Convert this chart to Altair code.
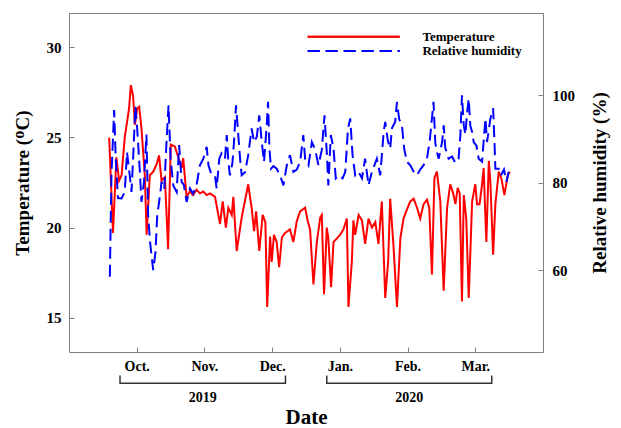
import altair as alt
import pandas as pd

# Days are counted from 1 Sep 2019 (day 30 = Oct., day 60 = Nov., ...)
temp_day = [17.8, 19.5, 21.0, 22.2, 23.3, 24.7, 26.6, 27.4, 28.4, 29.2,
            30.2, 31.1, 32.1, 33.6, 34.4, 35.8, 37.3, 38.8, 39.9, 41.0,
            42.5, 43.9, 45.1, 46.9, 48.4, 49.9, 50.6, 52.1, 53.5, 55.0,
            56.5, 58.0, 59.5, 61.0, 62.5, 64.7, 66.9, 68.1, 69.5, 70.6,
            72.1, 72.8, 74.3, 76.5, 79.4, 80.9, 82.0, 82.9, 84.3, 85.8,
            87.0, 87.8, 89.1, 89.8, 90.8, 92.0, 93.1, 94.3, 95.7, 97.9,
            99.4, 100.9, 102.4, 104.6, 105.8, 106.8, 108.3, 109.8, 111.3, 112.0,
            113.0, 114.2, 114.9, 116.1, 117.2, 118.7, 120.1, 121.6, 123.1, 123.8,
            125.3, 126.0, 126.8, 128.3, 129.8, 131.2, 132.7, 134.2, 135.7, 137.1,
            138.6, 140.1, 141.4, 142.3, 143.8, 145.3, 146.8, 148.2, 149.7, 151.2,
            152.7, 154.2, 155.6, 157.1, 158.6, 159.6, 160.8, 161.9, 163.0, 164.5,
            166.0, 167.5, 168.9, 170.2, 171.2, 172.2, 173.1, 174.1, 174.9, 176.0,
            177.1, 178.6, 180.0, 180.8, 181.9, 183.0, 183.7, 184.9, 186.0, 186.7,
            187.9, 188.9, 190.4, 191.6, 192.9, 194.4, 195.3]
temp_c = [25.0, 19.7, 23.9, 22.6, 22.9, 25.0, 26.6, 27.9, 27.3, 25.7,
          26.6, 26.7, 25.5, 22.9, 19.6, 22.9, 23.1, 23.5, 24.0, 22.6,
          22.8, 18.8, 24.6, 24.5, 23.9, 23.3, 23.85, 21.7, 22.0, 21.8,
          22.1, 21.9, 22.0, 21.8, 21.9, 21.7, 20.2, 21.45, 20.0, 21.1,
          20.7, 21.7, 18.7, 20.55, 22.4, 21.1, 19.8, 20.9, 18.7, 20.7,
          20.3, 15.6, 19.5, 18.1, 19.6, 19.2, 17.8, 19.45, 19.7, 19.9,
          19.2, 20.35, 20.9, 21.1, 20.35, 19.9, 16.85, 19.2, 20.55, 20.7,
          16.3, 20.0, 19.4, 16.7, 19.2, 19.4, 19.6, 19.9, 20.5, 15.6,
          18.1, 20.4, 19.6, 20.7, 20.4, 19.1, 20.5, 20.0, 20.3, 19.1,
          21.45, 16.1, 18.1, 21.6, 18.9, 15.6, 19.4, 20.5, 21.0, 21.45,
          21.6, 21.1, 20.5, 21.3, 21.55, 21.1, 17.4, 22.75, 23.1, 21.45,
          16.5, 21.1, 22.4, 21.9, 21.3, 22.2, 21.9, 15.9, 21.8, 20.5,
          16.1, 21.45, 22.4, 21.3, 21.3, 22.4, 23.3, 19.2, 23.7, 22.5,
          18.5, 21.3, 23.1, 22.7, 21.8, 22.9, 23.1]

rh_day = [18.1, 18.8, 20.0, 20.7, 21.7, 23.3, 24.7, 25.7, 26.9, 27.7,
          28.4, 29.4, 30.2, 31.4, 32.1, 33.2, 34.3, 35.1, 36.0, 37.3,
          38.3, 39.1, 40.3, 41.0, 42.2, 43.2, 44.1, 45.0, 46.2, 47.7,
          48.8, 49.9, 50.9, 52.1, 53.6, 55.0, 56.5, 58.0, 59.5, 61.0,
          61.8, 63.2, 64.7, 65.4, 66.6, 67.6, 69.1, 69.9, 70.6, 71.3,
          72.4, 73.1, 74.0, 75.0, 75.8, 76.5, 78.0, 79.4, 80.9, 82.0,
          83.2, 84.3, 85.4, 86.4, 87.6, 88.2, 88.8, 89.5, 90.6, 92.0,
          93.5, 95.0, 96.5, 97.9, 99.4, 100.9, 102.4, 103.8, 104.6, 106.1,
          107.6, 109.1, 110.5, 112.0, 113.2, 114.2, 114.9, 116.0, 117.2, 118.2,
          119.7, 121.2, 122.4, 123.6, 124.6, 125.6, 126.8, 128.3, 129.8, 131.2,
          132.7, 134.2, 136.4, 137.9, 139.4, 140.1, 141.3, 142.3, 143.1, 144.5,
          145.3, 146.3, 147.5, 148.5, 149.7, 151.2, 152.7, 154.2, 155.6, 157.1,
          158.6, 159.8, 160.8, 161.5, 162.3, 163.0, 163.8, 165.3, 166.0, 166.7,
          168.2, 169.7, 171.2, 172.6, 173.4, 174.1, 174.9, 175.6, 176.4, 177.1,
          177.8, 178.6, 179.3, 180.5, 181.5, 183.0, 184.5, 185.2, 186.7, 187.9,
          188.5, 188.9, 190.4, 191.4, 192.7, 193.8, 194.8]
rh_pct = [58.5, 81.7, 96.6, 85.5, 76.5, 76.4, 77.9, 87.0, 81.7, 77.9,
          85.5, 97.5, 92.4, 82.5, 75.6, 80.0, 91.0, 72.0, 66.0, 60.0,
          64.0, 72.6, 77.0, 80.2, 78.5, 89.3, 97.7, 85.5, 79.4, 77.9,
          88.6, 80.2, 79.5, 75.6, 78.7, 77.5, 79.4, 84.0, 85.5, 88.2,
          84.0, 81.7, 81.5, 78.7, 85.5, 86.7, 85.5, 90.9, 84.8, 81.7,
          84.5, 89.3, 97.7, 90.9, 85.5, 81.7, 82.4, 86.3, 92.4, 89.3,
          90.5, 95.4, 89.3, 84.8, 93.1, 98.5, 87.8, 83.2, 83.8, 83.2,
          81.7, 79.4, 84.0, 86.3, 82.5, 83.0, 84.8, 90.9, 85.5, 84.0,
          89.3, 87.5, 84.0, 87.5, 95.4, 87.0, 79.4, 90.9, 87.8, 81.0,
          81.7, 81.0, 82.5, 92.4, 94.7, 86.5, 81.7, 82.5, 81.0, 85.5,
          79.4, 82.5, 85.5, 81.7, 91.6, 93.9, 89.5, 87.8, 92.5, 93.9,
          98.5, 94.5, 93.1, 87.8, 84.8, 84.0, 82.5, 81.7, 83.0, 84.0,
          85.5, 89.5, 94.7, 98.5, 89.0, 87.0, 85.5, 89.3, 93.1, 88.0,
          85.5, 86.0, 84.5, 85.5, 90.9, 100.0, 93.1, 91.0, 96.2, 99.2,
          93.0, 91.6, 89.3, 88.5, 85.5, 84.8, 94.7, 89.3, 94.7, 97.0,
          89.3, 83.2, 83.2, 81.7, 83.0, 80.2, 82.5]

month_ticks = [30, 60, 90, 120, 150, 180]
month_labels = ["Oct.", "Nov.", "Dec.", "Jan.", "Feb.", "Mar."]
temp_ticks = [15, 20, 25, 30]
rh_ticks = [60, 80, 100]

# Year brackets under the month labels (in days)
year_labels = ["2019", "2020"]
year_start = [22.6, 114.2]
year_end = [95.9, 187.3]

series_names = ["Temperature", "Relative humidity"]

FONT = "Liberation Serif"
W, H = 474, 339
GRAY = "#808080"

temp_df = pd.DataFrame({"day": temp_day, "temp": temp_c})
rh_df = pd.DataFrame({"day": rh_day, "rh": rh_pct})
years_df = pd.DataFrame({
    "year": year_labels,
    "day": year_start,
    "day_end": year_end,
    "mid": [(a + b) / 2 for a, b in zip(year_start, year_end)],
})
bracket_ends_df = pd.DataFrame({"day": year_start + year_end})

label_expr = "[" + ",".join("'" + m + "'" for m in month_labels) + "][round(datum.value / 30) - 1]"

x_scale = alt.Scale(domain=[0, 210], nice=False, zero=False)
x_axis = alt.Axis(
    values=month_ticks, labelExpr=label_expr, title="Date",
    domain=False, grid=False, tickSize=5, offset=-5, tickColor=GRAY,
    labelFont=FONT, labelFontSize=14, labelFontWeight="bold", labelColor="black",
    labelBaseline="alphabetic", labelPadding=18.5,
    titleFont=FONT, titleFontSize=21, titleFontWeight="bold", titleColor="black",
    titleBaseline="alphabetic", titleX=W / 2, titleY=76.5,
)

temp_line = alt.Chart(temp_df).mark_line(color="#ff0000", strokeWidth=2).encode(
    x=alt.X("day:Q", scale=x_scale, axis=x_axis),
    y=alt.Y(
        "temp:Q",
        scale=alt.Scale(domain=[13.1, 31.9], nice=False, zero=False),
        axis=alt.Axis(
            orient="left", values=temp_ticks, title="Temperature (ᴼC)",
            domain=False, grid=False, tickSize=5, offset=-5, tickColor=GRAY,
            labelFont=FONT, labelFontSize=15, labelFontWeight="bold", labelColor="black",
            labelPadding=8,
            titleFont=FONT, titleFontSize=19, titleFontWeight="bold", titleColor="black",
            titleAngle=270, titleBaseline="alphabetic", titleX=-46, titleY=H / 2,
        ),
    ),
    order="day:Q",
)

rh_line = alt.Chart(rh_df).mark_line(color="#0000ff", strokeWidth=2, strokeDash=[12, 6]).encode(
    x=alt.X("day:Q", scale=x_scale, axis=x_axis),
    y=alt.Y(
        "rh:Q",
        scale=alt.Scale(domain=[41.3, 118.8], nice=False, zero=False),
        axis=alt.Axis(
            orient="right", values=rh_ticks, title="Relative humidity (%)",
            domain=False, grid=False, tickSize=5, offset=-5, tickColor=GRAY,
            labelFont=FONT, labelFontSize=15, labelFontWeight="bold", labelColor="black",
            labelPadding=9,
            titleFont=FONT, titleFontSize=19, titleFontWeight="bold", titleColor="black",
            titleAngle=270, titleBaseline="alphabetic", titleX=67, titleY=H / 2,
        ),
    ),
    order="day:Q",
)

# Year brackets and labels below the date axis
bracket_bar = alt.Chart(years_df).mark_rule(color="#333333", strokeWidth=1.5).encode(
    x=alt.X("day:Q", scale=x_scale, axis=x_axis),
    x2="day_end:Q",
    y=alt.value(370.3),
)
bracket_ends = alt.Chart(bracket_ends_df).mark_rule(color="#333333", strokeWidth=1.5).encode(
    x=alt.X("day:Q", scale=x_scale, axis=x_axis),
    y=alt.value(362.5),
    y2=alt.value(371),
)
year_text = alt.Chart(years_df).mark_text(
    font=FONT, fontSize=14, fontWeight="bold", color="black", baseline="alphabetic"
).encode(
    x=alt.X("mid:Q", scale=x_scale, axis=x_axis),
    y=alt.value(388.7),
    text="year:N",
)

# Legend in the upper right of the plot
legend_df = pd.DataFrame({"name": series_names})
leg_temp_line = alt.Chart(legend_df).mark_rule(color="#ff0000", strokeWidth=2).encode(
    x=alt.value(238.7), x2=alt.value(330.7), y=alt.value(23.7)
)
leg_rh_line = alt.Chart(legend_df).mark_rule(color="#0000ff", strokeWidth=2, strokeDash=[12, 6]).encode(
    x=alt.value(238.7), x2=alt.value(330.7), y=alt.value(38)
)
leg_temp_text = alt.Chart(legend_df).transform_filter(
    alt.datum.name == series_names[0]
).mark_text(font=FONT, fontSize=13, fontWeight="bold", color="black", align="left", baseline="alphabetic").encode(
    x=alt.value(353.4), y=alt.value(27.5), text="name:N"
)
leg_rh_text = alt.Chart(legend_df).transform_filter(
    alt.datum.name == series_names[1]
).mark_text(font=FONT, fontSize=13, fontWeight="bold", color="black", align="left", baseline="alphabetic").encode(
    x=alt.value(353.4), y=alt.value(42), text="name:N"
)

chart = alt.layer(
    temp_line, rh_line, bracket_bar, bracket_ends, year_text,
    leg_temp_line, leg_rh_line, leg_temp_text, leg_rh_text,
).resolve_scale(
    y="independent"
).properties(
    width=W, height=H,
    autosize=alt.AutoSizeParams(type="none"),
    padding={"left": 69, "top": 13, "right": 621 - 69 - W, "bottom": 428 - 13 - H},
    background="white",
).configure_view(
    stroke=GRAY, strokeWidth=1
)

chart.save("out.html", embed_options={"renderer": "svg", "actions": False})
